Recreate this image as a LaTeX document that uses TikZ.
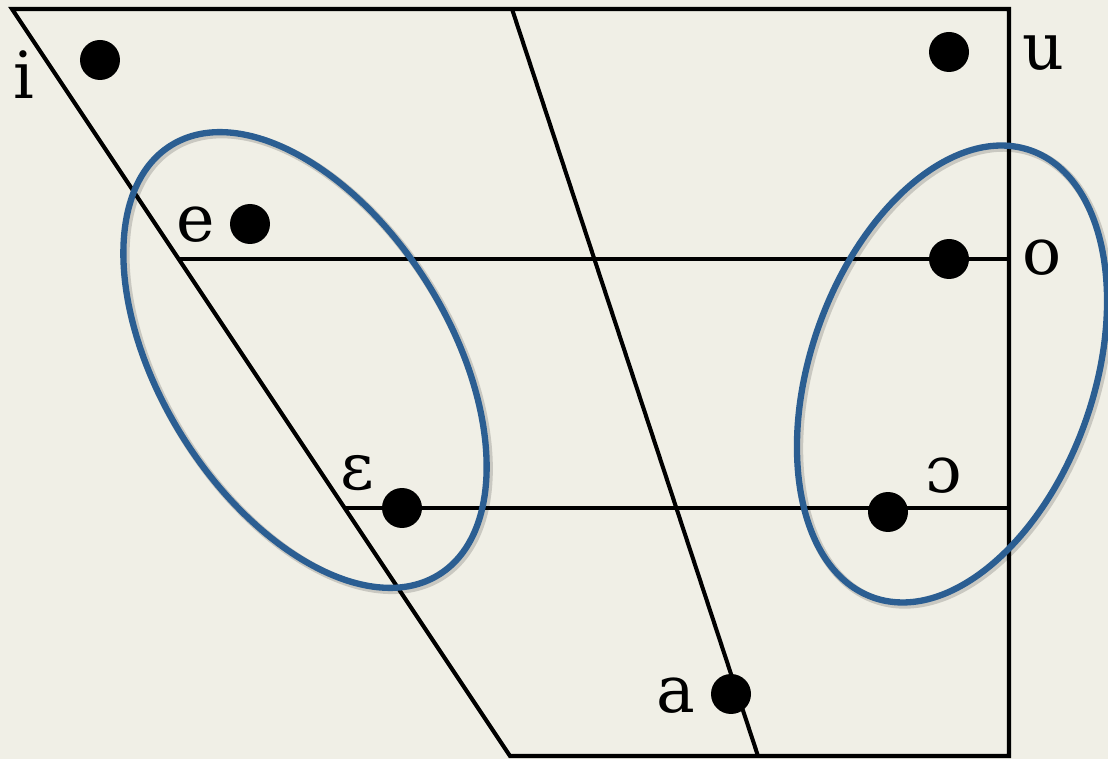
\documentclass[tikz,border=0pt]{standalone}
\usepackage{fontspec}
\setmainfont{DejaVu Serif}
\definecolor{paper}{RGB}{240,239,230}
\definecolor{ringblue}{RGB}{43,94,146}
\tikzset{
  vowel/.style={circle,fill=black,inner sep=0pt,minimum size=0.8cm},
  sym/.style={anchor=base,inner sep=0pt,font=\fontsize{37}{40}\selectfont},
  ring/.style={draw=ringblue,line width=3.6pt},
  ringshade/.style={draw=black,opacity=0.16,line width=4.8pt},
}
\begin{document}
\begin{tikzpicture}[x=0.02cm,y=-0.02cm,line width=2.3pt]
\fill[paper] (0,0) rectangle (1108,759);
\useasboundingbox (0,0) rectangle (1108,759);
% corners of the chart
\coordinate (fronttop) at (12,9);
\coordinate (backtop) at (1009,9);
\coordinate (backlow) at (1009,756);
\coordinate (frontlow) at (510,756);
\coordinate (centtop) at (512,9);
\coordinate (centlow) at (758,756);
\coordinate (midhi) at (180,259);
\coordinate (midhib) at (1009,259);
\coordinate (midlo) at (346,508);
\coordinate (midlob) at (1009,508);
\draw[line join=miter] (fronttop)--(backtop)--(backlow)--(frontlow)--cycle;
\draw (centtop)--(centlow);
\draw (midhi)--(midhib);
\draw (midlo)--(midlob);
% vowels
\node[vowel] (vi) at (100,60) {};
\node[vowel] (vu) at (949,52) {};
\node[vowel] (ve) at (250,224) {};
\node[vowel] (vo) at (949,259) {};
\node[vowel] (veps) at (402,508) {};
\node[vowel] (vopen) at (888,512) {};
\node[vowel] (va) at (731,694) {};
\node[sym] (li) at (24,99) {i};
\node[sym] (lu) at (1043,70) {u};
\node[sym] (le) at (196,242) {e};
\node[sym] (lo) at (1042,275) {o};
\node[sym] (leps) at (357,490) {ɛ};
\node[sym] (lopen) at (944,493) {ɔ};
\node[sym] (la) at (676,712) {a};
% groupings
\draw[ringshade,shift={(307,362)},rotate=-58] (0,0) ellipse [x radius=253,y radius=144.5];
\draw[ring,shift={(305,360)},rotate=-58] (0,0) ellipse [x radius=253,y radius=144.5];
\draw[ringshade,shift={(954,376)},rotate=70.6] (0,0) ellipse [x radius=237,y radius=141.6];
\draw[ring,shift={(952,374)},rotate=70.6] (0,0) ellipse [x radius=237,y radius=141.6];
\end{tikzpicture}
\end{document}
